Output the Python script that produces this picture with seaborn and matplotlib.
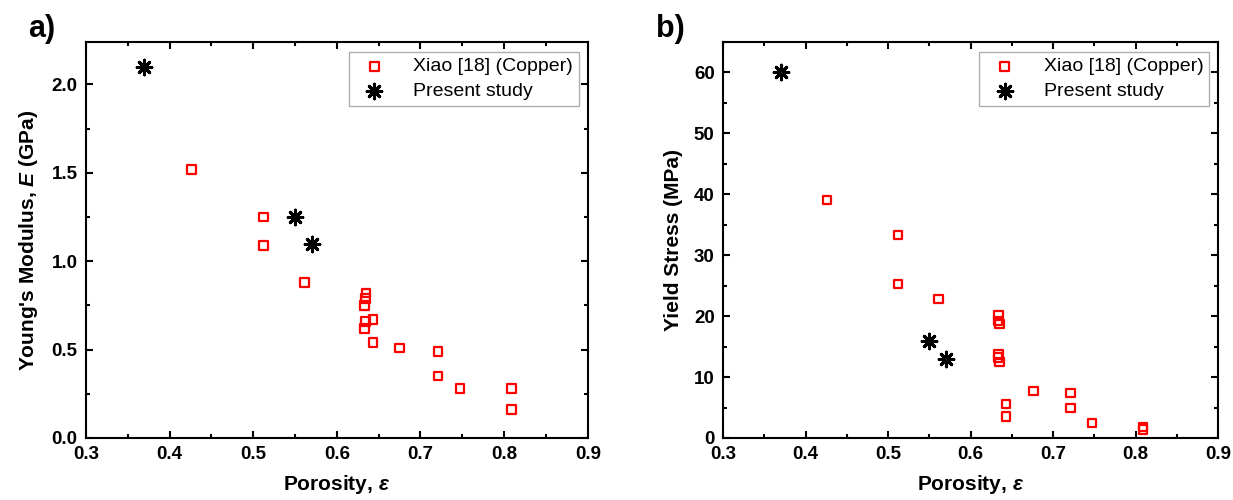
import matplotlib
matplotlib.use("Agg")
import matplotlib.pyplot as plt
import numpy as np
import pandas as pd
import seaborn as sns
from matplotlib.ticker import MultipleLocator

# Young's modulus (GPa) vs porosity
xiao_por_E = [0.426, 0.512, 0.512, 0.561, 0.635, 0.634, 0.633, 0.634, 0.643,
              0.633, 0.643, 0.675, 0.721, 0.721, 0.747, 0.809, 0.809]
xiao_E = [1.52, 1.25, 1.09, 0.88, 0.82, 0.79, 0.75, 0.66, 0.67,
          0.62, 0.54, 0.51, 0.49, 0.35, 0.28, 0.28, 0.16]
present_por = [0.37, 0.55, 0.57]
present_E = [2.1, 1.25, 1.1]

# Yield stress (MPa) vs porosity
xiao_por_Y = [0.426, 0.512, 0.512, 0.561, 0.634, 0.633, 0.635, 0.634, 0.633,
              0.635, 0.643, 0.643, 0.676, 0.721, 0.721, 0.747, 0.809, 0.809]
xiao_Y = [39.1, 33.3, 25.3, 22.8, 20.2, 19.2, 18.7, 13.7, 13.2,
          12.5, 5.6, 3.5, 7.7, 7.4, 4.9, 2.45, 1.8, 1.4]
present_Y = [60, 16, 13]

labels = ["Xiao [18] (Copper)", "Present study"]

sns.set_style("ticks")
plt.rcParams["font.family"] = ["Liberation Sans", "DejaVu Sans"]
plt.rcParams["text.color"] = "black"
plt.rcParams["axes.labelcolor"] = "black"
plt.rcParams["xtick.color"] = "black"
plt.rcParams["ytick.color"] = "black"
plt.rcParams["mathtext.fontset"] = "custom"
plt.rcParams["mathtext.it"] = "Liberation Sans:italic:bold"
plt.rcParams["mathtext.rm"] = "Liberation Sans:bold"

fig = plt.figure(figsize=(12.33, 5), dpi=100)
ax1 = fig.add_axes([0.0697, 0.124, 0.407, 0.792])
ax2 = fig.add_axes([0.5864, 0.124, 0.4015, 0.792])


def draw_panel(ax, xp, yp, xs, ys, ylim, ymajor, yminor, ylabel, fmt):
    df_x = pd.DataFrame({"por": xp, "val": yp})
    df_p = pd.DataFrame({"por": xs, "val": ys})
    sns.scatterplot(data=df_x, x="por", y="val", ax=ax, marker="s", s=38,
                    facecolor="none", edgecolor="#ff0000", linewidth=1.6,
                    label=labels[0])
    sns.scatterplot(data=df_p, x="por", y="val", ax=ax, marker=(8, 2, 0),
                    s=110, color="black", linewidth=2.2, label=labels[1])
    ax.set_xlim(0.3, 0.9)
    ax.set_ylim(*ylim)
    ax.xaxis.set_major_locator(MultipleLocator(0.1))
    ax.xaxis.set_minor_locator(MultipleLocator(0.05))
    ax.yaxis.set_major_locator(MultipleLocator(ymajor))
    ax.yaxis.set_minor_locator(MultipleLocator(yminor))
    ax.yaxis.set_major_formatter(plt.FormatStrFormatter(fmt))
    ax.tick_params(which="both", direction="in", top=True, right=True,
                   width=1.5, colors="black")
    ax.tick_params(which="major", length=5, labelsize=13.5, pad=6)
    ax.tick_params(which="minor", length=3)
    for lbl in ax.get_xticklabels() + ax.get_yticklabels():
        lbl.set_fontweight("bold")
    for sp in ax.spines.values():
        sp.set_linewidth(1.5)
        sp.set_color("black")
    ax.set_xlabel(r"Porosity, $\varepsilon$", fontsize=15, fontweight="bold",
                  labelpad=7)
    ax.set_ylabel(ylabel, fontsize=15, fontweight="bold", labelpad=8)
    leg = ax.legend(loc="upper right", fontsize=14, frameon=True, fancybox=False,
                    borderpad=0.3, labelspacing=0.35, handletextpad=1.0,
                    borderaxespad=0, bbox_to_anchor=(0.982, 0.975))
    leg.get_frame().set_edgecolor("#999999")
    leg.get_frame().set_linewidth(1.0)


draw_panel(ax1, xiao_por_E, xiao_E, present_por, present_E, (0, 2.24), 0.5, 0.25,
           r"Young's Modulus, $E$ (GPa)", "%.1f")
draw_panel(ax2, xiao_por_Y, xiao_Y, present_por, present_Y, (0, 65), 10, 5,
           "Yield Stress (MPa)", "%d")

fig.text(0.023, 0.925, "a)", fontsize=22, fontweight="bold")
fig.text(0.532, 0.925, "b)", fontsize=22, fontweight="bold")

fig.savefig("out.png", dpi=100)
